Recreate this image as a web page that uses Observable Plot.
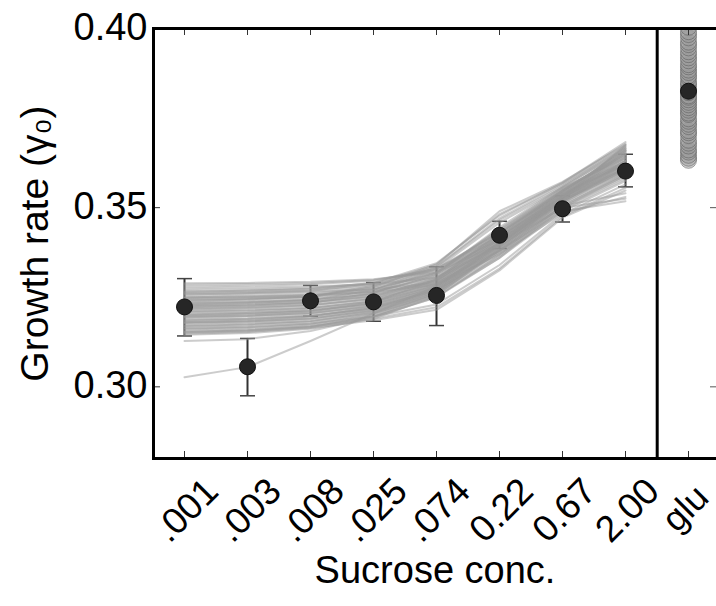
<!DOCTYPE html>
<html>
<head>
<meta charset="utf-8">
<script src="https://cdn.jsdelivr.net/npm/d3@7"></script>
<script src="https://cdn.jsdelivr.net/npm/@observablehq/plot@0.6"></script>
<style>
  html, body { margin: 0; padding: 0; background: #fff; }
  #chart { width: 716px; height: 606px; overflow: hidden; }
</style>
</head>
<body>
<div id="chart"></div>
<script>
// ---- data ----
const concs = [".001", ".003", ".008", ".025", ".074", "0.22", "0.67", "2.00"];
const gluLabel = "glu";
const categories = [...concs, gluLabel];
const means = [0.3223, 0.3056, 0.3240, 0.3237, 0.3255, 0.3423, 0.3497, 0.3602];
const lows  = [0.3142, 0.2975, 0.3197, 0.3183, 0.3171, 0.3386, 0.3460, 0.3558];
const highs = [0.3302, 0.3135, 0.3283, 0.3291, 0.3335, 0.3462, 0.3533, 0.3649];
const yTicks = [0.30, 0.35, 0.40];
const gluMean = 0.3825;
const gluSamples = [0.3632, 0.3638, 0.3646, 0.3655, 0.3661, 0.3672, 0.3680, 0.3688, 0.3701, 0.3709,
  0.3715, 0.3726, 0.3733, 0.3741, 0.3748, 0.3760, 0.3764, 0.3772, 0.3779, 0.3787, 0.3794, 0.3801,
  0.3808, 0.3812, 0.3821, 0.3829, 0.3838, 0.3845, 0.3851, 0.3862, 0.3868, 0.3877, 0.3884, 0.3893,
  0.3899, 0.3910, 0.3918, 0.3927, 0.3935, 0.3946, 0.3955, 0.3962, 0.3974, 0.3983, 0.3991, 0.4003];
const sampleCurves = [
  [0.3289, 0.3290, 0.3293, 0.3300, 0.3320, 0.3400, 0.3520, 0.3600],
  [0.3280, 0.3282, 0.3286, 0.3296, 0.3330, 0.3420, 0.3530, 0.3610],
  [0.3270, 0.3272, 0.3276, 0.3290, 0.3330, 0.3430, 0.3540, 0.3620],
  [0.3262, 0.3264, 0.3268, 0.3280, 0.3320, 0.3425, 0.3545, 0.3630],
  [0.3255, 0.3257, 0.3262, 0.3275, 0.3315, 0.3415, 0.3535, 0.3625],
  [0.3250, 0.3252, 0.3257, 0.3272, 0.3320, 0.3440, 0.3555, 0.3640],
  [0.3245, 0.3247, 0.3252, 0.3266, 0.3305, 0.3410, 0.3530, 0.3620],
  [0.3240, 0.3243, 0.3249, 0.3265, 0.3310, 0.3420, 0.3540, 0.3635],
  [0.3236, 0.3238, 0.3244, 0.3258, 0.3298, 0.3402, 0.3525, 0.3610],
  [0.3232, 0.3235, 0.3241, 0.3259, 0.3312, 0.3435, 0.3550, 0.3650],
  [0.3228, 0.3231, 0.3237, 0.3252, 0.3295, 0.3398, 0.3520, 0.3605],
  [0.3224, 0.3227, 0.3234, 0.3252, 0.3305, 0.3428, 0.3548, 0.3645],
  [0.3220, 0.3223, 0.3229, 0.3245, 0.3288, 0.3392, 0.3518, 0.3612],
  [0.3216, 0.3219, 0.3226, 0.3245, 0.3300, 0.3425, 0.3546, 0.3655],
  [0.3212, 0.3215, 0.3221, 0.3238, 0.3282, 0.3388, 0.3515, 0.3600],
  [0.3208, 0.3211, 0.3218, 0.3238, 0.3295, 0.3420, 0.3545, 0.3660],
  [0.3204, 0.3207, 0.3214, 0.3231, 0.3276, 0.3380, 0.3510, 0.3595],
  [0.3200, 0.3204, 0.3211, 0.3232, 0.3290, 0.3415, 0.3542, 0.3650],
  [0.3196, 0.3199, 0.3206, 0.3224, 0.3270, 0.3375, 0.3505, 0.3590],
  [0.3192, 0.3196, 0.3204, 0.3226, 0.3285, 0.3410, 0.3540, 0.3665],
  [0.3188, 0.3191, 0.3199, 0.3218, 0.3265, 0.3372, 0.3500, 0.3585],
  [0.3184, 0.3188, 0.3196, 0.3220, 0.3280, 0.3405, 0.3535, 0.3645],
  [0.3180, 0.3183, 0.3191, 0.3212, 0.3260, 0.3365, 0.3495, 0.3580],
  [0.3176, 0.3180, 0.3189, 0.3214, 0.3276, 0.3402, 0.3532, 0.3670],
  [0.3172, 0.3176, 0.3184, 0.3206, 0.3254, 0.3360, 0.3490, 0.3575],
  [0.3168, 0.3172, 0.3181, 0.3208, 0.3272, 0.3398, 0.3530, 0.3640],
  [0.3164, 0.3168, 0.3177, 0.3196, 0.3230, 0.3340, 0.3482, 0.3565],
  [0.3160, 0.3164, 0.3174, 0.3202, 0.3268, 0.3395, 0.3528, 0.3660],
  [0.3156, 0.3160, 0.3170, 0.3190, 0.3222, 0.3330, 0.3476, 0.3555],
  [0.3152, 0.3157, 0.3167, 0.3196, 0.3262, 0.3390, 0.3525, 0.3675],
  [0.3148, 0.3153, 0.3164, 0.3186, 0.3215, 0.3325, 0.3472, 0.3548],
  [0.3145, 0.3150, 0.3162, 0.3190, 0.3255, 0.3385, 0.3522, 0.3655],
  [0.3265, 0.3268, 0.3274, 0.3290, 0.3345, 0.3478, 0.3570, 0.3683],
  [0.3258, 0.3261, 0.3268, 0.3288, 0.3340, 0.3490, 0.3572, 0.3675],
  [0.3240, 0.3244, 0.3252, 0.3282, 0.3336, 0.3470, 0.3565, 0.3668],
  [0.3230, 0.3234, 0.3242, 0.3270, 0.3335, 0.3465, 0.3560, 0.3672],
  [0.3260, 0.3262, 0.3265, 0.3272, 0.3290, 0.3380, 0.3490, 0.3518],
  [0.3275, 0.3277, 0.3280, 0.3286, 0.3305, 0.3395, 0.3500, 0.3525],
  [0.3250, 0.3252, 0.3256, 0.3265, 0.3285, 0.3370, 0.3485, 0.3530],
  [0.3180, 0.3185, 0.3196, 0.3220, 0.3270, 0.3380, 0.3505, 0.3540],
  [0.3285, 0.3287, 0.3290, 0.3298, 0.3325, 0.3410, 0.3525, 0.3605],
  [0.3266, 0.3268, 0.3272, 0.3285, 0.3326, 0.3432, 0.3548, 0.3638],
  [0.3248, 0.3250, 0.3255, 0.3270, 0.3318, 0.3438, 0.3552, 0.3648],
  [0.3234, 0.3237, 0.3243, 0.3262, 0.3316, 0.3445, 0.3558, 0.3662],
  [0.3226, 0.3229, 0.3236, 0.3254, 0.3302, 0.3418, 0.3538, 0.3628],
  [0.3218, 0.3221, 0.3228, 0.3248, 0.3298, 0.3412, 0.3535, 0.3622],
  [0.3210, 0.3213, 0.3220, 0.3240, 0.3292, 0.3408, 0.3532, 0.3632],
  [0.3202, 0.3206, 0.3213, 0.3234, 0.3286, 0.3404, 0.3530, 0.3615],
  [0.3194, 0.3198, 0.3206, 0.3228, 0.3282, 0.3400, 0.3527, 0.3625],
  [0.3186, 0.3190, 0.3198, 0.3222, 0.3277, 0.3396, 0.3524, 0.3618],
  [0.3178, 0.3182, 0.3191, 0.3216, 0.3272, 0.3392, 0.3522, 0.3630],
  [0.3170, 0.3174, 0.3184, 0.3210, 0.3266, 0.3386, 0.3518, 0.3612],
  [0.3162, 0.3166, 0.3176, 0.3204, 0.3262, 0.3382, 0.3515, 0.3622],
  [0.3154, 0.3158, 0.3169, 0.3198, 0.3258, 0.3378, 0.3512, 0.3608],
  [0.3150, 0.3155, 0.3166, 0.3196, 0.3250, 0.3368, 0.3505, 0.3595],
  [0.3243, 0.3246, 0.3251, 0.3278, 0.3342, 0.3482, 0.3568, 0.3678],
  [0.3222, 0.3226, 0.3234, 0.3262, 0.3330, 0.3458, 0.3556, 0.3665],
  [0.3198, 0.3202, 0.3210, 0.3236, 0.3300, 0.3430, 0.3548, 0.3658],
  [0.3128, 0.3133, 0.3156, 0.3195, 0.3250, 0.3360, 0.3500, 0.3590],
  [0.3027, 0.3055, 0.3128, 0.3205, 0.3280, 0.3400, 0.3530, 0.3630]
];
const xLabel = "Sucrose conc.";
const yLabel = "Growth rate (γ₀)";

// ---- derived tables ----
const curveRows = sampleCurves.flatMap((vals, k) => vals.map((v, i) => ({k, c: concs[i], v})));
const summary = concs.map((c, i) => ({c, m: means[i], lo: lows[i], hi: highs[i]}));
const gluRows = gluSamples.map(v => ({c: gluLabel, v}));

const capSymbol = {
  draw(ctx, size) {
    const w = Math.sqrt(size / Math.PI);
    ctx.moveTo(-w, 0);
    ctx.lineTo(w, 0);
  }
};

const W = 716, H = 606;
const mL = 153, mT = 28, mB = 148, mR = 0;
const frameW = W - mL - mR;
const frameH = H - mT - mB;
const font = "'Liberation Sans', Arial, sans-serif";

const chart = Plot.plot({
  width: W,
  height: H,
  marginLeft: mL,
  marginRight: mR,
  marginTop: mT,
  marginBottom: mB,
  style: {fontFamily: font, background: "#fff", color: "#000"},
  x: {type: "point", domain: categories, range: [183.5, 687.7], padding: 0, axis: null},
  y: {domain: [0.28, 0.40], axis: null},
  marks: [
    // error bars
    Plot.ruleX(summary, {x: "c", y1: "lo", y2: "hi", stroke: "#333", strokeWidth: 2}),
    Plot.dot(summary, {x: "c", y: "lo", symbol: capSymbol, r: 7.5, stroke: "#444", strokeWidth: 1.5, fill: "none"}),
    Plot.dot(summary, {x: "c", y: "hi", symbol: capSymbol, r: 7.5, stroke: "#444", strokeWidth: 1.5, fill: "none"}),
    // posterior curves
    Plot.line(curveRows, {x: "c", y: "v", z: "k", stroke: "#999", strokeOpacity: 0.5, strokeWidth: 2}),
    // means
    Plot.dot(summary, {x: "c", y: "m", r: 8, fill: "#262626", stroke: "#111", strokeWidth: 1}),
    // glucose samples
    Plot.dot(gluRows, {x: "c", y: "v", r: 8, fill: "#9a9a9a", fillOpacity: 0.45, stroke: "#555", strokeOpacity: 0.5, strokeWidth: 1, clip: true}),
    Plot.dot([gluMean], {x: () => gluLabel, y: d => d, r: 8, fill: "#262626", stroke: "#111", strokeWidth: 1}),
    // ticks (inward)
    Plot.tickX(categories, {x: d => d, insetBottom: frameH - 7, stroke: "#333", strokeWidth: 1}),
    Plot.tickX(categories, {x: d => d, insetTop: frameH - 7, stroke: "#333", strokeWidth: 1}),
    Plot.tickY(yTicks, {y: d => d, insetRight: frameW - 7, stroke: "#333", strokeWidth: 1}),
    Plot.tickY(yTicks, {y: d => d, insetLeft: 710 - mL, stroke: "#555", strokeWidth: 1}),
    // frame
    Plot.ruleY([0.40, 0.28], {stroke: "#000", strokeWidth: 3}),
    Plot.frame({anchor: "left", stroke: "#000", strokeWidth: 3}),
    Plot.ruleX(["2.00"], {dx: 31.7, stroke: "#000", strokeWidth: 3}),
    // tick labels
    Plot.text(yTicks, {y: d => d, text: d => d.toFixed(2), frameAnchor: "left", textAnchor: "end", dx: -6, dy: -1, fontSize: 38, fill: "#000"}),
    Plot.text(concs, {x: d => d, text: d => d, frameAnchor: "bottom", rotate: -45, textAnchor: "middle", lineAnchor: "middle", dx: 2, dy: 52, fontSize: 37, fill: "#000"}),
    Plot.text([gluLabel], {x: d => d, text: d => d, frameAnchor: "bottom", rotate: -45, textAnchor: "middle", lineAnchor: "middle", dx: -3, dy: 50, fontSize: 36, fill: "#000"}),
    // axis labels
    Plot.text([xLabel], {text: d => d, frameAnchor: "bottom", textAnchor: "middle", dy: 124, fontSize: 38, fill: "#000"}),
    Plot.text([yLabel], {text: d => d, frameAnchor: "left", textAnchor: "middle", lineAnchor: "middle", rotate: -90, dx: -118, fontSize: 39, fill: "#000"})
  ]
});
document.getElementById("chart").appendChild(chart);
</script>
</body>
</html>
